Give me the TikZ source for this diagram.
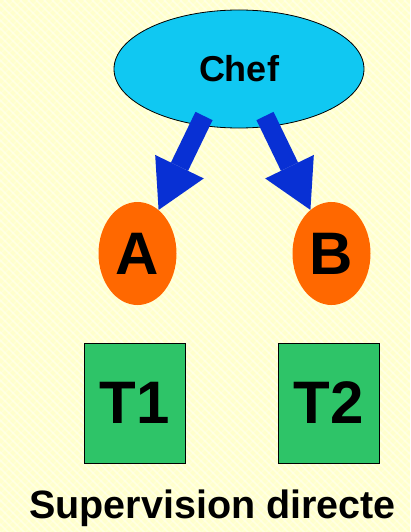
\documentclass[tikz,border=0pt]{standalone}
\usepackage{fontspec}
\setmainfont{Liberation Sans}
\usetikzlibrary{shapes.geometric,arrows.meta}

\definecolor{paper}{RGB}{255,255,204}
\definecolor{chefblue}{RGB}{16,200,242}
\definecolor{roleorange}{RGB}{255,104,0}
\definecolor{taskgreen}{RGB}{46,196,104}
\definecolor{arrowblue}{RGB}{8,48,212}

\tikzset{
  chefnode/.style={ellipse, draw=black, line width=0.8pt, fill=chefblue,
    inner sep=0pt, minimum width=250pt, minimum height=118pt,
    font=\fontsize{36}{36}\selectfont\bfseries},
  rolenode/.style={ellipse, fill=roleorange, inner sep=0pt,
    minimum width=78pt, minimum height=103pt,
    font=\fontsize{60}{60}\selectfont\bfseries},
  tasknode/.style={rectangle, draw=black, line width=0.8pt, fill=taskgreen,
    inner sep=0pt, minimum width=101pt, minimum height=120pt,
    font=\fontsize{60}{60}\selectfont\bfseries},
  captionnode/.style={inner sep=0pt, anchor=base,
    font=\fontsize{39.5}{40}\selectfont\bfseries},
  order/.style={draw=arrowblue, line width=19pt,
    -{Triangle[length=48pt,width=54pt,line width=0pt]}},
}

\begin{document}
\begin{tikzpicture}[x=1pt,y=-1pt]
  % paper with a light woven texture
  \useasboundingbox (0,0) rectangle (410,532);
  \fill[paper] (0,0) rectangle (410,532);
  \begin{scope}
    \clip (0,0) rectangle (410,532);
    \foreach \i in {-540,-532,...,420}
      \draw[white, opacity=0.45, line width=1.6pt] (\i,0) -- ++(540,540);
    \foreach \i in {-10,-2,...,950}
      \draw[white, opacity=0.25, line width=1.2pt] (\i,0) -- ++(-540,540);
  \end{scope}

  % the chef and the two roles below
  \node[chefnode] (chef) at (239,69) {Chef};
  \node[rolenode] (A) at (137.5,253.5) {A};
  \node[rolenode] (B) at (331.5,253.5) {B};

  % tasks
  \node[tasknode] (T1) at (135,403) {T1};
  \node[tasknode] (T2) at (328.5,403) {T2};

  % direct orders
  \coordinate (fromleft) at (204,116);
  \coordinate (fromright) at (265,116);
  \draw[order] (fromleft) -- (A);
  \draw[order] (fromright) -- (B);

  \node[captionnode] (caption) at (212.5,518) {Supervision directe};
\end{tikzpicture}
\end{document}
